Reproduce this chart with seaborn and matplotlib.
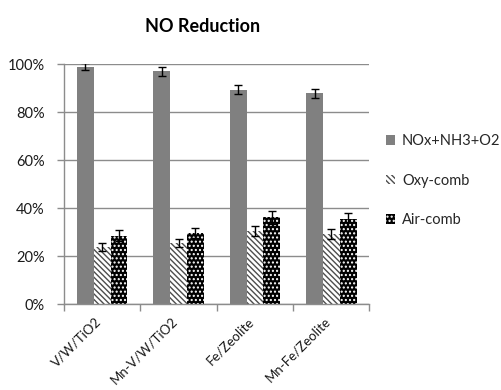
import matplotlib
matplotlib.use("Agg")
import matplotlib.pyplot as plt
import matplotlib.transforms as mtransforms
import seaborn as sns
import pandas as pd
import numpy as np
from matplotlib.ticker import PercentFormatter, FixedLocator
from matplotlib.patches import Patch

catalysts = ["V/W/TiO2", "Mn-V/W/TiO2", "Fe/Zeolite", "Mn-Fe/Zeolite"]
series = ["NOx+NH3+O2", "Oxy-comb", "Air-comb"]

nox_nh3_o2 = [98.9, 96.9, 89.2, 87.8]
oxy_comb = [23.6, 25.4, 30.6, 29.2]
air_comb = [28.5, 29.7, 36.1, 35.3]

nox_err = [1.5, 2.0, 1.9, 1.9]
oxy_err = [1.7, 1.7, 2.1, 2.1]
air_err = [2.3, 2.0, 2.6, 2.6]

y_ticks = [0, 20, 40, 60, 80, 100]

values = [nox_nh3_o2, oxy_comb, air_comb]
errors = [nox_err, oxy_err, air_err]

df = pd.DataFrame({
    "catalyst": np.tile(catalysts, len(series)),
    "series": np.repeat(series, len(catalysts)),
    "value": np.concatenate(values),
    "err": np.concatenate(errors),
})

sns.set_theme(style="white")
plt.rcParams["font.family"] = ["Lato", "DejaVu Sans"]
plt.rcParams["hatch.linewidth"] = 1.0

fig = plt.figure(figsize=(5.02, 3.90), dpi=100)
ax = fig.add_axes([64 / 502, 1 - 304 / 390, (369.5 - 64) / 502, (304 - 64) / 390])

sns.barplot(data=df, x="catalyst", y="value", hue="series", order=catalysts,
            hue_order=series, errorbar=None, width=0.66, ax=ax, legend=False,
            palette=["#808080", "white", "black"], saturation=1)

styles = {
    "NOx+NH3+O2": dict(facecolor="#808080", edgecolor="#808080", hatch=None),
    "Oxy-comb": dict(facecolor="white", edgecolor="#4d4d4d", hatch="\\\\\\\\\\\\"),
    "Air-comb": dict(facecolor="black", edgecolor="white", hatch="...."),
}

# seaborn adds the bars series by series, in hue_order
for i, name in enumerate(series):
    st = styles[name]
    for j, bar in enumerate(ax.patches[i * len(catalysts):(i + 1) * len(catalysts)]):
        bar.set_facecolor(st["facecolor"])
        bar.set_edgecolor(st["edgecolor"])
        bar.set_linewidth(0)
        if st["hatch"]:
            bar.set_hatch(st["hatch"])
        ax.errorbar(bar.get_x() + bar.get_width() / 2, bar.get_height(),
                    yerr=errors[i][j], fmt="none", ecolor="black",
                    elinewidth=1, capsize=3, capthick=1, zorder=5)

ax.set_ylim(0, 100)
ax.set_xlim(-0.5, len(catalysts) - 0.5)
ax.yaxis.set_major_locator(FixedLocator(y_ticks))
ax.yaxis.set_major_formatter(PercentFormatter(100, decimals=0))
ax.grid(axis="y", color="#8c8c8c", linewidth=1)
ax.set_axisbelow(True)

for side in ["top", "right"]:
    ax.spines[side].set_visible(False)
for side in ["left", "bottom"]:
    ax.spines[side].set_color("#8c8c8c")
    ax.spines[side].set_linewidth(1)

ax.tick_params(axis="y", which="major", left=True, length=5, width=1,
               color="#8c8c8c", labelsize=10.5, pad=9, labelcolor="#1a1a1a")
ax.set_xticks(np.arange(len(catalysts)))
ax.set_xticks(np.arange(len(catalysts) + 1) - 0.5, minor=True)
ax.tick_params(axis="x", which="major", bottom=False, length=0, labelsize=9.5,
               labelcolor="#1a1a1a", pad=11)
ax.tick_params(axis="x", which="minor", bottom=True, length=5, width=1,
               color="#8c8c8c")
ax.set_xticklabels(catalysts, rotation=45, ha="right", va="center",
                   rotation_mode="anchor")
shift = mtransforms.ScaledTranslation(-3 / 100, 0, fig.dpi_scale_trans)
for lbl in ax.get_xticklabels():
    lbl.set_transform(lbl.get_transform() + shift)
ax.set_xlabel("")
ax.set_ylabel("")

fig.text(203 / 502, 1 - 26 / 390, "NO Reduction", ha="center", va="center",
         fontsize=13, fontweight="bold", color="black")

handles = [Patch(facecolor=styles[n]["facecolor"], edgecolor=styles[n]["edgecolor"],
                 hatch=styles[n]["hatch"], linewidth=0) for n in series]
fig.legend(handles, series, loc="upper left", bbox_to_anchor=(386 / 502, 1 - 134 / 390),
           frameon=False, fontsize=10.5, handlelength=0.65, handleheight=0.65,
           handletextpad=0.45, labelspacing=1.75, borderaxespad=0, borderpad=0)

fig.savefig("out.png", dpi=100)
